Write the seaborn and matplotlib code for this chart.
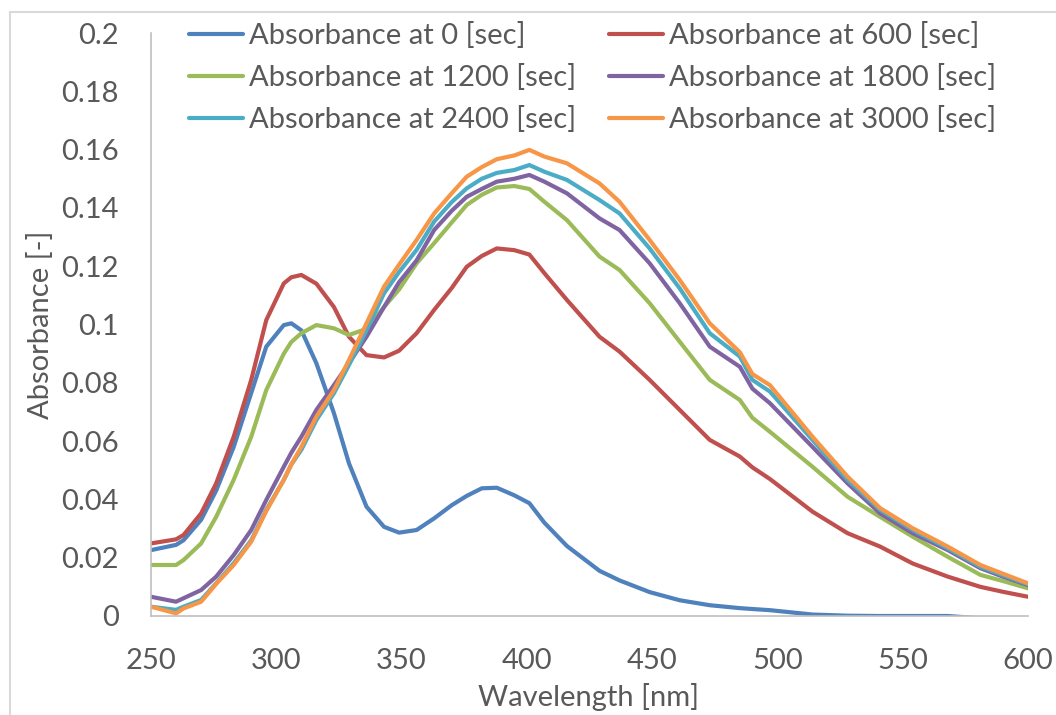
import matplotlib
matplotlib.use("Agg")
import matplotlib.pyplot as plt
import seaborn as sns
import pandas as pd
from matplotlib.patches import Rectangle
from matplotlib.lines import Line2D

wavelength = [250, 260, 263, 270, 276, 283, 290, 296, 303, 306, 310, 316, 323, 329, 336,
              343, 349, 356, 363, 370, 376, 382, 388, 395, 401, 407, 416, 429, 437, 449,
              461, 473, 485, 490, 497, 514, 528, 541, 554, 568, 581, 590, 600]

abs_0 = [0.0226, 0.0244, 0.0260, 0.0330, 0.0430, 0.0580, 0.0765, 0.0924, 0.0998, 0.1004, 0.0980,
         0.0867, 0.0696, 0.0524, 0.0375, 0.0306, 0.0286, 0.0295, 0.0335, 0.0380, 0.0412, 0.0438,
         0.0440, 0.0414, 0.0387, 0.0320, 0.0240, 0.0155, 0.0122, 0.0082, 0.0054, 0.0037, 0.0027,
         0.0024, 0.0020, 0.0005, 0.0001, 0.0000, 0.0000, 0.0000, -0.0008, -0.0010, -0.0010]

abs_600 = [0.0249, 0.0263, 0.0278, 0.0352, 0.0455, 0.0615, 0.0810, 0.1015, 0.1141, 0.1162, 0.1170,
           0.1140, 0.1060, 0.0958, 0.0895, 0.0887, 0.0910, 0.0970, 0.1050, 0.1125, 0.1198, 0.1235,
           0.1261, 0.1255, 0.1240, 0.1176, 0.1084, 0.0958, 0.0907, 0.0810, 0.0707, 0.0604, 0.0547,
           0.0510, 0.0470, 0.0358, 0.0284, 0.0238, 0.0180, 0.0135, 0.0100, 0.0083, 0.0066]

abs_1200 = [0.0175, 0.0175, 0.0192, 0.0249, 0.0340, 0.0467, 0.0615, 0.0775, 0.0900, 0.0940, 0.0970,
            0.0998, 0.0987, 0.0964, 0.0985, 0.1060, 0.1120, 0.1210, 0.1279, 0.1350, 0.1410, 0.1445,
            0.1470, 0.1475, 0.1465, 0.1421, 0.1358, 0.1233, 0.1187, 0.1073, 0.0941, 0.0810, 0.0741,
            0.0680, 0.0632, 0.0512, 0.0409, 0.0340, 0.0272, 0.0203, 0.0141, 0.0120, 0.0095]

abs_1800 = [0.0066, 0.0049, 0.0061, 0.0089, 0.0135, 0.0209, 0.0295, 0.0398, 0.0512, 0.0560, 0.0615,
            0.0707, 0.0792, 0.0867, 0.0958, 0.1060, 0.1145, 0.1220, 0.1324, 0.1390, 0.1438, 0.1465,
            0.1490, 0.1500, 0.1513, 0.1490, 0.1450, 0.1364, 0.1324, 0.1210, 0.1073, 0.0924, 0.0855,
            0.0780, 0.0730, 0.0580, 0.0455, 0.0352, 0.0284, 0.0226, 0.0164, 0.0135, 0.0106]

abs_2400 = [0.0032, 0.0021, 0.0032, 0.0055, 0.0112, 0.0181, 0.0260, 0.0364, 0.0467, 0.0520, 0.0570,
            0.0672, 0.0764, 0.0861, 0.0980, 0.1107, 0.1180, 0.1256, 0.1353, 0.1420, 0.1467, 0.1500,
            0.1520, 0.1530, 0.1547, 0.1524, 0.1496, 0.1427, 0.1381, 0.1261, 0.1124, 0.0970, 0.0890,
            0.0810, 0.0770, 0.0604, 0.0467, 0.0364, 0.0295, 0.0232, 0.0169, 0.0140, 0.0109]

abs_3000 = [0.0032, 0.0009, 0.0026, 0.0049, 0.0110, 0.0175, 0.0255, 0.0360, 0.0467, 0.0520, 0.0580,
            0.0684, 0.0775, 0.0878, 0.1004, 0.1130, 0.1205, 0.1290, 0.1381, 0.1450, 0.1507, 0.1540,
            0.1567, 0.1580, 0.1599, 0.1576, 0.1553, 0.1484, 0.1421, 0.1290, 0.1153, 0.1004, 0.0905,
            0.0830, 0.0792, 0.0615, 0.0478, 0.0370, 0.0301, 0.0238, 0.0175, 0.0145, 0.0112]

series_names = ["Absorbance at 0 [sec]", "Absorbance at 600 [sec]",
                "Absorbance at 1200 [sec]", "Absorbance at 1800 [sec]",
                "Absorbance at 2400 [sec]", "Absorbance at 3000 [sec]"]
series_values = [abs_0, abs_600, abs_1200, abs_1800, abs_2400, abs_3000]
colors = ["#4F81BD", "#C0504D", "#9BBB59", "#8064A2", "#4BACC6", "#F79646"]

x_ticks = [250, 300, 350, 400, 450, 500, 550, 600]
y_ticks = [0, 0.02, 0.04, 0.06, 0.08, 0.1, 0.12, 0.14, 0.16, 0.18, 0.2]
y_tick_labels = ["0", "0.02", "0.04", "0.06", "0.08", "0.1", "0.12", "0.14", "0.16", "0.18", "0.2"]

frames = []
for name, vals in zip(series_names, series_values):
    frames.append(pd.DataFrame({"Wavelength": wavelength, "Absorbance": vals, "Series": name}))
df = pd.concat(frames, ignore_index=True)

sns.set_theme(style="white")
plt.rcParams["font.family"] = ["Lato", "DejaVu Sans"]
text_color = "#595959"
fs = 21

fig = plt.figure(figsize=(10.56, 7.15), dpi=100)
ax = fig.add_axes([151 / 1056, 1 - 616 / 715, (1028 - 151) / 1056, (616 - 33) / 715])

# outer chart-area border
fig.patches.append(Rectangle((9.5 / 1056, -0.1), 1.2, 1 - 12 / 715 + 0.1,
                             transform=fig.transFigure, fill=False,
                             edgecolor="#D9D9D9", linewidth=1.5, zorder=0))

sns.lineplot(data=df, x="Wavelength", y="Absorbance", hue="Series",
             hue_order=series_names, palette=colors, linewidth=3.0,
             sort=False, estimator=None, ax=ax, legend=False)

ax.set_xlim(250, 600)
ax.set_ylim(0, 0.2)
ax.set_xticks(x_ticks)
ax.set_xticklabels([str(t) for t in x_ticks])
ax.set_yticks(y_ticks)
ax.set_yticklabels(y_tick_labels)
ax.tick_params(axis="both", length=0, labelsize=fs, labelcolor=text_color)
ax.tick_params(axis="y", pad=23)
ax.tick_params(axis="x", pad=23)

for s in ["top", "right"]:
    ax.spines[s].set_visible(False)
for s in ["left", "bottom"]:
    ax.spines[s].set_color("#BFBFBF")
    ax.spines[s].set_linewidth(1.2)

ax.set_xlabel("Wavelength [nm]", fontsize=fs, color=text_color)
ax.set_ylabel("Absorbance [-]", fontsize=fs, color=text_color)
ax.xaxis.set_label_coords((589 - 151) / 877, -(683 - 616) / 583)
ax.yaxis.set_label_coords(-(151 - 54) / 877, 0.5)

# legend filled row by row like the reference (2 columns)
order = [0, 2, 4, 1, 3, 5]
handles = [Line2D([0], [0], color=colors[i], linewidth=3.0) for i in order]
labels = [series_names[i] for i in order]
leg = ax.legend(handles, labels, ncol=2, loc="upper left",
                bbox_to_anchor=(189 / 1056, 1 - 22 / 715), bbox_transform=fig.transFigure,
                frameon=False, fontsize=fs, handlelength=1.85, handletextpad=0.2,
                columnspacing=1.15, labelspacing=0.52, borderpad=0, borderaxespad=0)
for t in leg.get_texts():
    t.set_color(text_color)

fig.savefig("out.png", dpi=100)
